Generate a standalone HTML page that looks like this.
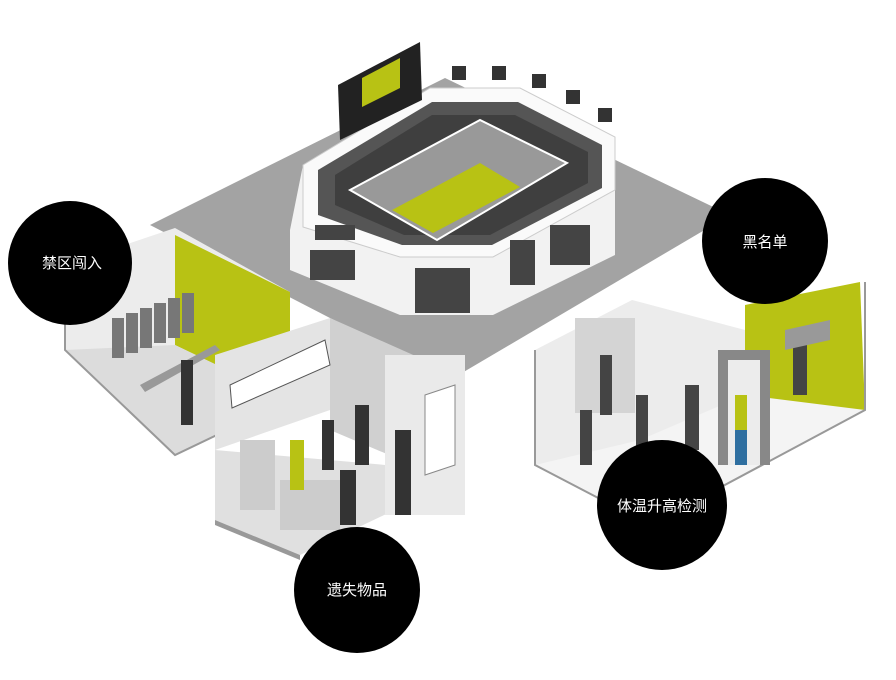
<!DOCTYPE html>
<html><head><meta charset="utf-8"><style>
html,body{margin:0;padding:0;background:#fff;width:896px;height:680px;overflow:hidden}
svg{display:block}
text{font-family:"Liberation Sans","Noto Sans CJK SC",sans-serif;fill:#fff;font-size:15px;text-anchor:middle}
</style></head><body>
<svg width="896" height="680" viewBox="0 0 896 680">
<!-- big grey floor -->
<polygon points="150,225 445,78 730,215 450,380" fill="#a3a3a3"/>
<!-- left room -->
<polygon points="65,265 175,228 290,292 290,400 175,455 65,350" fill="#ececec"/>
<polygon points="175,235 290,292 290,400 175,345" fill="#b8c214"/>
<polygon points="65,350 175,345 290,400 175,455" fill="#dcdcdc"/>
<polyline points="65,265 65,350 175,455 290,400" fill="none" stroke="#999" stroke-width="2"/>
<g fill="#777"><rect x="112" y="318" width="12" height="40"/><rect x="126" y="313" width="12" height="40"/><rect x="140" y="308" width="12" height="40"/><rect x="154" y="303" width="12" height="40"/><rect x="168" y="298" width="12" height="40"/><rect x="182" y="293" width="12" height="40"/></g>
<polygon points="140,385 215,345 220,350 145,392" fill="#999"/>
<rect x="181" y="360" width="12" height="65" fill="#333"/>
<!-- stadium -->
<polygon points="303,165 430,88 520,88 615,137 615,255 493,315 400,315 290,270 290,230" fill="#f2f2f2"/>
<polygon points="303,165 430,88 520,88 615,137 615,190 493,257 400,257 303,227" fill="#fafafa" stroke="#ccc"/>
<polygon points="318,170 432,102 518,102 602,145 602,188 492,245 402,245 318,215" fill="#555"/>
<polygon points="335,175 432,115 515,115 588,152 588,183 490,235 404,235 335,205" fill="#3f3f3f"/>
<polygon points="350,190 480,120 567,163 437,240" fill="#999" stroke="#fff" stroke-width="2"/>
<polygon points="392,210 480,163 520,187 433,233" fill="#b8c214"/>
<g fill="#444"><rect x="310" y="250" width="45" height="30"/><rect x="415" y="268" width="55" height="45"/><rect x="510" y="240" width="25" height="45"/><rect x="550" y="225" width="40" height="40"/><rect x="315" y="225" width="40" height="15"/></g>
<!-- scoreboard -->
<polygon points="338,85 420,42 422,100 340,140" fill="#222"/>
<polygon points="362,78 400,58 400,88 362,107" fill="#b8c214"/>
<g fill="#333"><rect x="452" y="66" width="14" height="14"/><rect x="492" y="66" width="14" height="14"/><rect x="532" y="74" width="14" height="14"/><rect x="566" y="90" width="14" height="14"/><rect x="598" y="108" width="14" height="14"/></g>
<!-- middle shop -->
<polygon points="215,355 330,318 330,410 215,450" fill="#e4e4e4"/>
<polygon points="330,318 420,358 420,468 330,430" fill="#d0d0d0"/>
<polygon points="215,450 215,520 300,555 420,498 420,468" fill="#e0e0e0"/>
<polygon points="215,520 300,555 300,560 215,525" fill="#999"/>
<rect x="385" y="355" width="80" height="160" fill="#eaeaea"/>
<polygon points="425,395 455,385 455,465 425,475" fill="#fff" stroke="#888"/>
<polygon points="230,385 325,340 330,365 232,408" fill="#fff" stroke="#555"/>
<rect x="240" y="440" width="35" height="70" fill="#ccc"/>
<rect x="280" y="480" width="60" height="50" fill="#ccc"/>
<g fill="#333"><rect x="290" y="440" width="14" height="50" fill="#b8c214"/><rect x="355" y="405" width="14" height="60"/><rect x="395" y="430" width="16" height="85"/><rect x="340" y="470" width="16" height="55"/><rect x="322" y="420" width="12" height="50"/></g>
<!-- right room -->
<polygon points="535,350 632,300 745,330 745,460 650,525 535,465" fill="#ececec"/>
<polygon points="745,305 860,282 865,410 745,460" fill="#b8c214"/>
<polygon points="535,465 650,525 865,410 745,395 640,440" fill="#f4f4f4"/>
<polyline points="535,350 535,465 650,525 865,410 865,282" fill="none" stroke="#999" stroke-width="2"/>
<rect x="575" y="318" width="60" height="95" fill="#d4d4d4"/>
<rect x="718" y="350" width="52" height="115" fill="#888"/>
<rect x="728" y="360" width="32" height="105" fill="#ececec"/>
<g fill="#444"><rect x="600" y="355" width="12" height="60"/><rect x="580" y="410" width="12" height="55"/><rect x="636" y="395" width="12" height="55"/><rect x="685" y="385" width="14" height="65"/><rect x="793" y="345" width="14" height="50"/><rect x="735" y="395" width="12" height="35" fill="#b8c214"/><rect x="735" y="430" width="12" height="35" fill="#2f6fa0"/></g>
<polygon points="785,330 830,320 830,340 785,350" fill="#999"/>
<!-- circles -->
<circle cx="70" cy="263" r="62" fill="#000"/><text x="72" y="268">禁区闯入</text>
<circle cx="765" cy="241" r="63" fill="#000"/><text x="765" y="247">黑名单</text>
<circle cx="662" cy="505" r="65" fill="#000"/><text x="662" y="511">体温升高检测</text>
<circle cx="357" cy="590" r="63" fill="#000"/><text x="357" y="595">遗失物品</text>
</svg>
</body></html>
